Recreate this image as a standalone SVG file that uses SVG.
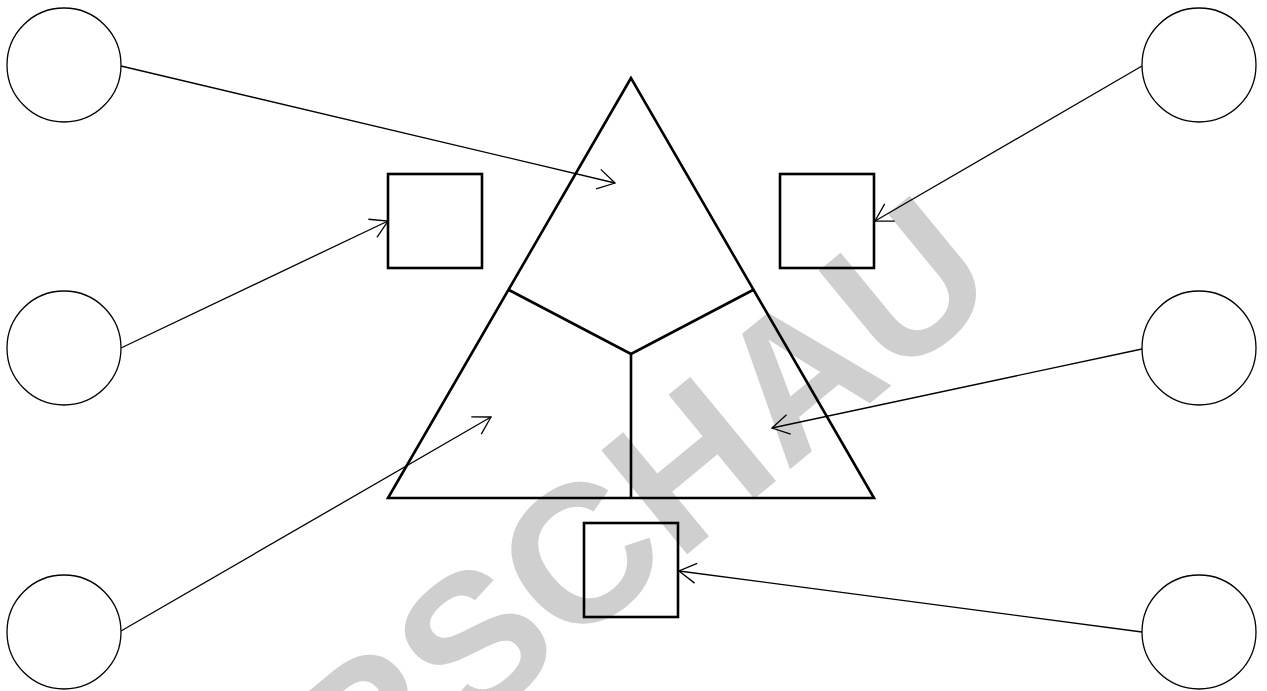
<svg xmlns="http://www.w3.org/2000/svg" width="1267" height="691" viewBox="0 0 1267 691">
<style>
.circle{fill:none;stroke:#000;stroke-width:1.3}
.box{fill:none;stroke:#000;stroke-width:2.6}
.tri{fill:none;stroke:#000;stroke-width:2.6;stroke-linejoin:miter}
.conn{fill:none;stroke:#000;stroke-width:1.3}
.wm{font-family:"Liberation Sans",Arial,sans-serif;font-weight:bold;font-size:196px;fill:#cfcfcf}
</style>
<defs>
<marker id="arr" markerUnits="userSpaceOnUse" markerWidth="24" markerHeight="24" refX="19" refY="11" orient="auto" overflow="visible">
<path d="M2,1 L19,11 L2,21" fill="none" stroke="#000" stroke-width="1.3"/>
</marker>
</defs>
<rect width="1267" height="691" fill="#fff"/>
<text class="wm" x="572" y="649" text-anchor="middle" transform="rotate(-39.5 572 649)">VORSCHAU</text>
<g id="triangle">
<polygon class="tri" points="631,78 388,498 874,498"/>
<polyline class="tri" points="509,290 631,354 753,290"/>
<line class="tri" x1="631" y1="354" x2="631" y2="498"/>
</g>
<g id="box-left"><rect class="box" x="388" y="174" width="94" height="94"/></g>
<g id="box-right"><rect class="box" x="780" y="174" width="94" height="94"/></g>
<g id="box-bottom"><rect class="box" x="584" y="523" width="94" height="94"/></g>
<g id="circle-l1"><circle class="circle" cx="64" cy="65" r="57"/></g>
<g id="circle-l2"><circle class="circle" cx="64" cy="348" r="57"/></g>
<g id="circle-l3"><circle class="circle" cx="64" cy="632" r="57"/></g>
<g id="circle-r1"><circle class="circle" cx="1199" cy="65" r="57"/></g>
<g id="circle-r2"><circle class="circle" cx="1199" cy="348" r="57"/></g>
<g id="circle-r3"><circle class="circle" cx="1199" cy="632" r="57"/></g>
<g id="connectors">
<line class="conn" x1="121" y1="66" x2="615" y2="183" marker-end="url(#arr)"/>
<line class="conn" x1="121" y1="348" x2="388" y2="221" marker-end="url(#arr)"/>
<line class="conn" x1="121" y1="631" x2="491" y2="417" marker-end="url(#arr)"/>
<line class="conn" x1="1142" y1="66" x2="875" y2="221" marker-end="url(#arr)"/>
<line class="conn" x1="1142" y1="349" x2="772" y2="428" marker-end="url(#arr)"/>
<line class="conn" x1="1142" y1="632" x2="679" y2="571" marker-end="url(#arr)"/>
</g>
</svg>
